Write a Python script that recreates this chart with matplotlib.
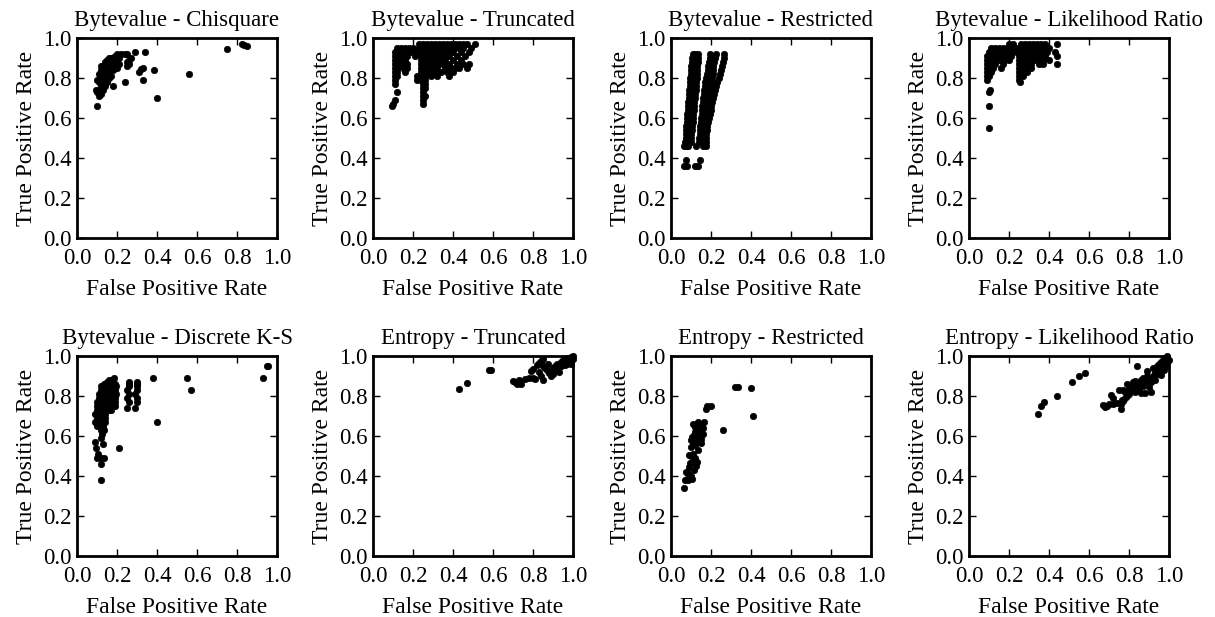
import matplotlib
matplotlib.use("Agg")
import matplotlib.pyplot as plt

plt.rcParams['font.family'] = ['Liberation Serif', 'DejaVu Serif']
plt.rcParams['mathtext.fontset'] = 'stix'

titles = ["Bytevalue - Chisquare", "Bytevalue - Truncated", "Bytevalue - Restricted",
          "Bytevalue - Likelihood Ratio", "Bytevalue - Discrete K-S", "Entropy - Truncated",
          "Entropy - Restricted", "Entropy - Likelihood Ratio"]
x_label = "False Positive Rate"
y_label = "True Positive Rate"
tick_values = [0.0, 0.2, 0.4, 0.6, 0.8, 1.0]
tick_labels = ["0.0", "0.2", "0.4", "0.6", "0.8", "1.0"]

# ---- Bytevalue - Chisquare (fpr, tpr pairs)
chisq_points = [(0.10, 0.66), (0.095, 0.74), (0.10, 0.73), (0.11, 0.71), (0.12, 0.72), (0.10, 0.79),
                (0.11, 0.78), (0.12, 0.80), (0.11, 0.82), (0.12, 0.84), (0.13, 0.86), (0.12, 0.86),
                (0.13, 0.82), (0.14, 0.80), (0.13, 0.78), (0.12, 0.76), (0.14, 0.84), (0.14, 0.88),
                (0.15, 0.86), (0.15, 0.89), (0.16, 0.90), (0.15, 0.82), (0.16, 0.84), (0.16, 0.87),
                (0.17, 0.88), (0.17, 0.85), (0.17, 0.81), (0.18, 0.90), (0.18, 0.87), (0.18, 0.84),
                (0.19, 0.86), (0.19, 0.89), (0.19, 0.91), (0.20, 0.92), (0.20, 0.88), (0.20, 0.85),
                (0.21, 0.90), (0.21, 0.87), (0.16, 0.80), (0.15, 0.78), (0.14, 0.76), (0.18, 0.76),
                (0.24, 0.78), (0.22, 0.92), (0.24, 0.92), (0.25, 0.92), (0.25, 0.86), (0.25, 0.88),
                (0.26, 0.89), (0.27, 0.90), (0.26, 0.87), (0.29, 0.93), (0.34, 0.93), (0.31, 0.83),
                (0.32, 0.845), (0.33, 0.85), (0.33, 0.79), (0.385, 0.84), (0.40, 0.70), (0.56, 0.82),
                (0.75, 0.945), (0.825, 0.97), (0.835, 0.965), (0.85, 0.962), (0.13, 0.74), (0.11, 0.74),
                (0.17, 0.90), (0.14, 0.82), (0.15, 0.84)]

# ---- Bytevalue - Truncated (tpr row, list of fpr)
trunc_rows = [
    (0.97, [0.23, 0.25, 0.27, 0.29, 0.31, 0.33, 0.35, 0.37, 0.39, 0.41, 0.43, 0.45, 0.47, 0.51]),
    (0.95, [0.12, 0.14, 0.16, 0.18, 0.20, 0.23, 0.25, 0.27, 0.29, 0.31, 0.33, 0.35, 0.37, 0.39, 0.41, 0.43, 0.45, 0.49]),
    (0.93, [0.11, 0.13, 0.15, 0.17, 0.19, 0.22, 0.24, 0.26, 0.28, 0.30, 0.32, 0.34, 0.36, 0.38, 0.40, 0.44, 0.48]),
    (0.91, [0.11, 0.13, 0.15, 0.17, 0.21, 0.24, 0.26, 0.28, 0.30, 0.32, 0.34, 0.36, 0.38, 0.42, 0.46]),
    (0.89, [0.11, 0.13, 0.15, 0.16, 0.24, 0.26, 0.28, 0.30, 0.32, 0.34, 0.36, 0.40, 0.44]),
    (0.87, [0.11, 0.12, 0.14, 0.17, 0.24, 0.26, 0.28, 0.30, 0.33, 0.35, 0.38, 0.42, 0.45, 0.48]),
    (0.85, [0.11, 0.12, 0.15, 0.17, 0.24, 0.26, 0.28, 0.30, 0.32, 0.36, 0.39, 0.41, 0.43, 0.47]),
    (0.83, [0.11, 0.12, 0.16, 0.24, 0.26, 0.28, 0.31, 0.34, 0.37, 0.40]),
    (0.81, [0.11, 0.12, 0.22, 0.24, 0.26, 0.29, 0.32, 0.38]),
    (0.79, [0.11, 0.22, 0.24, 0.26]),
    (0.77, [0.11, 0.25, 0.26]),
    (0.75, [0.25, 0.26]),
    (0.73, [0.12, 0.25]),
    (0.71, [0.25, 0.26]),
    (0.69, [0.11, 0.25]),
    (0.67, [0.10, 0.25]),
    (0.66, [0.095]),
]

# ---- Bytevalue - Restricted (tpr row, list of fpr)
restr_rows = [
    (0.36, [0.063, 0.078, 0.12, 0.137]),
    (0.39, [0.075, 0.147]),
    (0.46, [0.063, 0.075, 0.087, 0.125, 0.16, 0.173]),
    (0.48, [0.072, 0.087, 0.10, 0.14, 0.157, 0.173]),
    (0.50, [0.075, 0.088, 0.10, 0.142, 0.158, 0.174]),
    (0.52, [0.075, 0.089, 0.102, 0.144, 0.16, 0.176]),
    (0.54, [0.076, 0.09, 0.104, 0.145, 0.162, 0.179]),
    (0.56, [0.077, 0.091, 0.106, 0.146, 0.164, 0.182]),
    (0.58, [0.078, 0.093, 0.108, 0.148, 0.167, 0.186]),
    (0.60, [0.08, 0.095, 0.11, 0.15, 0.17, 0.19]),
    (0.62, [0.082, 0.097, 0.112, 0.153, 0.173, 0.194]),
    (0.64, [0.083, 0.098, 0.113, 0.155, 0.176, 0.198]),
    (0.66, [0.085, 0.10, 0.115, 0.157, 0.179, 0.202]),
    (0.68, [0.087, 0.102, 0.117, 0.16, 0.182, 0.206]),
    (0.70, [0.088, 0.104, 0.119, 0.162, 0.186, 0.21]),
    (0.72, [0.09, 0.105, 0.121, 0.165, 0.19, 0.215]),
    (0.74, [0.092, 0.107, 0.123, 0.167, 0.193, 0.22]),
    (0.76, [0.093, 0.109, 0.125, 0.17, 0.196, 0.226]),
    (0.78, [0.095, 0.111, 0.127, 0.172, 0.20, 0.232]),
    (0.80, [0.097, 0.112, 0.128, 0.175, 0.205, 0.238]),
    (0.82, [0.099, 0.114, 0.13, 0.179, 0.208, 0.244]),
    (0.84, [0.10, 0.116, 0.131, 0.183, 0.21, 0.25]),
    (0.86, [0.102, 0.118, 0.132, 0.187, 0.212, 0.255]),
    (0.88, [0.104, 0.12, 0.133, 0.19, 0.215, 0.26]),
    (0.90, [0.106, 0.121, 0.134, 0.194, 0.22, 0.264]),
    (0.92, [0.108, 0.122, 0.135, 0.197, 0.225, 0.267]),
]

# ---- Bytevalue - Likelihood Ratio (tpr row, list of fpr)
bv_lr_rows = [
    (0.97, [0.20, 0.22, 0.26, 0.28, 0.30, 0.32, 0.34, 0.36, 0.38, 0.44]),
    (0.95, [0.11, 0.13, 0.15, 0.17, 0.19, 0.21, 0.24, 0.26, 0.28, 0.30, 0.32, 0.34, 0.36, 0.38, 0.40]),
    (0.93, [0.10, 0.12, 0.14, 0.16, 0.18, 0.20, 0.22, 0.24, 0.26, 0.28, 0.30, 0.32, 0.35, 0.37, 0.39, 0.43]),
    (0.91, [0.09, 0.11, 0.13, 0.15, 0.17, 0.19, 0.21, 0.25, 0.27, 0.29, 0.31, 0.33, 0.36, 0.38, 0.44]),
    (0.89, [0.09, 0.11, 0.13, 0.15, 0.18, 0.20, 0.25, 0.27, 0.29, 0.31, 0.33, 0.35, 0.37, 0.40]),
    (0.87, [0.09, 0.11, 0.13, 0.17, 0.25, 0.27, 0.29, 0.31, 0.35, 0.37, 0.44]),
    (0.85, [0.09, 0.10, 0.12, 0.16, 0.25, 0.27, 0.29, 0.31]),
    (0.83, [0.09, 0.10, 0.11, 0.25, 0.27, 0.29]),
    (0.81, [0.09, 0.10, 0.25, 0.27]),
    (0.79, [0.09, 0.25]),
    (0.78, [0.255]),
    (0.74, [0.105]),
    (0.73, [0.10]),
    (0.66, [0.10]),
    (0.55, [0.10]),
]

# ---- Bytevalue - Discrete K-S (tpr row, list of fpr)
ks_rows = [
    (0.95, [0.95, 0.955]),
    (0.89, [0.185, 0.38, 0.55, 0.93]),
    (0.88, [0.16, 0.17]),
    (0.87, [0.15, 0.175, 0.26, 0.30]),
    (0.86, [0.135, 0.19, 0.26, 0.30]),
    (0.85, [0.12, 0.14, 0.16, 0.185, 0.195, 0.26, 0.30]),
    (0.83, [0.12, 0.13, 0.15, 0.17, 0.19, 0.25, 0.30, 0.57]),
    (0.81, [0.11, 0.13, 0.15, 0.165, 0.18, 0.195, 0.26, 0.29]),
    (0.79, [0.11, 0.12, 0.14, 0.16, 0.18, 0.19, 0.25, 0.30]),
    (0.77, [0.10, 0.12, 0.14, 0.15, 0.17, 0.19, 0.26, 0.30]),
    (0.75, [0.10, 0.12, 0.13, 0.15, 0.18, 0.19]),
    (0.74, [0.25, 0.29]),
    (0.73, [0.10, 0.11, 0.13, 0.16, 0.17]),
    (0.71, [0.09, 0.11, 0.12, 0.14]),
    (0.69, [0.10, 0.11, 0.13, 0.14]),
    (0.67, [0.09, 0.10, 0.12, 0.14, 0.40]),
    (0.65, [0.10, 0.12, 0.13]),
    (0.63, [0.12, 0.135]),
    (0.61, [0.125]),
    (0.59, [0.12]),
    (0.57, [0.09]),
    (0.56, [0.13]),
    (0.54, [0.095, 0.21]),
    (0.51, [0.105]),
    (0.49, [0.10, 0.12, 0.135]),
    (0.46, [0.118]),
    (0.38, [0.12]),
]

# ---- Entropy - Truncated (fpr, tpr pairs)
ent_trunc_points = [(0.43, 0.835), (0.47, 0.865), (0.58, 0.928), (0.59, 0.932), (0.70, 0.875), (0.71, 0.87),
                    (0.72, 0.862), (0.73, 0.88), (0.74, 0.862), (0.76, 0.885), (0.78, 0.89), (0.80, 0.89),
                    (0.81, 0.885), (0.79, 0.925), (0.80, 0.935), (0.82, 0.955), (0.83, 0.965), (0.84, 0.975),
                    (0.85, 0.985), (0.83, 0.92), (0.84, 0.90), (0.85, 0.88), (0.85, 0.95), (0.86, 0.94),
                    (0.87, 0.93), (0.88, 0.915), (0.89, 0.90), (0.90, 0.91), (0.90, 0.94), (0.91, 0.95),
                    (0.92, 0.96), (0.93, 0.945), (0.94, 0.97), (0.95, 0.96), (0.95, 0.98), (0.96, 0.97),
                    (0.97, 0.99), (0.97, 0.975), (0.98, 0.985), (0.99, 0.995), (0.99, 0.98), (1.0, 1.0),
                    (0.96, 0.955), (0.98, 0.97), (0.875, 0.96), (0.93, 0.92), (0.91, 0.93), (0.94, 0.95),
                    (0.99, 0.96), (1.0, 0.985), (0.97, 0.96)]

# ---- Entropy - Restricted (fpr, tpr pairs)
ent_restr_points = [(0.067, 0.34), (0.07, 0.38), (0.08, 0.385), (0.087, 0.38), (0.104, 0.385), (0.075, 0.42),
                    (0.087, 0.415), (0.09, 0.445), (0.095, 0.465), (0.11, 0.468), (0.13, 0.47), (0.092, 0.505),
                    (0.10, 0.50), (0.11, 0.51), (0.12, 0.49), (0.10, 0.545), (0.108, 0.565), (0.12, 0.555),
                    (0.137, 0.53), (0.104, 0.595), (0.113, 0.605), (0.13, 0.59), (0.14, 0.58), (0.10, 0.58),
                    (0.112, 0.66), (0.12, 0.645), (0.135, 0.67), (0.15, 0.65), (0.155, 0.66), (0.16, 0.64),
                    (0.165, 0.67), (0.16, 0.61), (0.145, 0.60), (0.15, 0.585), (0.15, 0.565), (0.135, 0.625),
                    (0.12, 0.62), (0.14, 0.635), (0.175, 0.735), (0.18, 0.75), (0.20, 0.75), (0.26, 0.63),
                    (0.32, 0.845), (0.335, 0.845), (0.40, 0.84), (0.41, 0.70), (0.10, 0.40), (0.115, 0.43),
                    (0.125, 0.45)]

# ---- Entropy - Likelihood Ratio (fpr, tpr pairs)
ent_lr_points = [(0.345, 0.712), (0.36, 0.75), (0.375, 0.77), (0.44, 0.80), (0.515, 0.87), (0.55, 0.90),
                 (0.58, 0.915), (0.67, 0.755), (0.68, 0.745), (0.69, 0.75), (0.70, 0.76), (0.71, 0.805),
                 (0.72, 0.79), (0.72, 0.76), (0.74, 0.765), (0.76, 0.735), (0.76, 0.76), (0.765, 0.78),
                 (0.77, 0.775), (0.78, 0.79), (0.77, 0.83), (0.78, 0.82), (0.79, 0.80), (0.80, 0.81),
                 (0.80, 0.835), (0.81, 0.845), (0.82, 0.83), (0.82, 0.87), (0.83, 0.82), (0.84, 0.845),
                 (0.84, 0.95), (0.85, 0.86), (0.85, 0.83), (0.86, 0.88), (0.86, 0.815), (0.87, 0.85),
                 (0.87, 0.89), (0.88, 0.87), (0.88, 0.815), (0.89, 0.90), (0.89, 0.925), (0.90, 0.88),
                 (0.90, 0.845), (0.91, 0.82), (0.91, 0.87), (0.92, 0.90), (0.92, 0.94), (0.93, 0.88),
                 (0.93, 0.92), (0.94, 0.91), (0.94, 0.95), (0.95, 0.93), (0.95, 0.96), (0.96, 0.905),
                 (0.96, 0.94), (0.96, 0.97), (0.97, 0.95), (0.97, 0.98), (0.98, 0.96), (0.98, 0.99),
                 (0.99, 0.97), (0.99, 1.0), (1.0, 0.98), (0.985, 0.95), (0.975, 0.93), (0.955, 0.925),
                 (0.79, 0.86), (0.83, 0.875), (0.75, 0.83)]


def from_pairs(pairs):
    return [p[0] for p in pairs], [p[1] for p in pairs]


def from_rows(rows):
    xs, ys = [], []
    for y, row in rows:
        for x in row:
            xs.append(x)
            ys.append(y)
    return xs, ys


panels = [from_pairs(chisq_points), from_rows(trunc_rows), from_rows(restr_rows), from_rows(bv_lr_rows),
          from_rows(ks_rows), from_pairs(ent_trunc_points), from_pairs(ent_restr_points),
          from_pairs(ent_lr_points)]

fig = plt.figure(figsize=(12.15, 6.17), dpi=100)
lefts = [77, 373, 671, 969]
bottoms_px = [238, 556]
W, H = 1215.0, 617.0
for i, (xs, ys) in enumerate(panels):
    r, c = divmod(i, 4)
    ax = fig.add_axes([lefts[c] / W, (H - bottoms_px[r]) / H, 200 / W, 200 / H])
    ax.plot(xs, ys, 'o', color='black', ms=4.6, mec='black', mew=0.5, clip_on=False, zorder=3)
    ax.set_xlim(0, 1)
    ax.set_ylim(0, 1)
    ax.set_xticks(tick_values)
    ax.set_yticks(tick_values)
    ax.set_xticklabels(tick_labels)
    ax.set_yticklabels(tick_labels)
    ax.tick_params(direction='in', length=5, width=1, top=True, right=True, labelsize=16.5)
    ax.tick_params(axis='x', pad=7)
    ax.tick_params(axis='y', pad=4)
    for s in ax.spines.values():
        s.set_linewidth(2)
    ax.set_title(titles[i], fontsize=16.5, pad=8.5)
    ax.set_xlabel(x_label, fontsize=17, labelpad=7.5)
    ax.set_ylabel(y_label, fontsize=17, labelpad=4)

fig.savefig("out.png", dpi=100)
